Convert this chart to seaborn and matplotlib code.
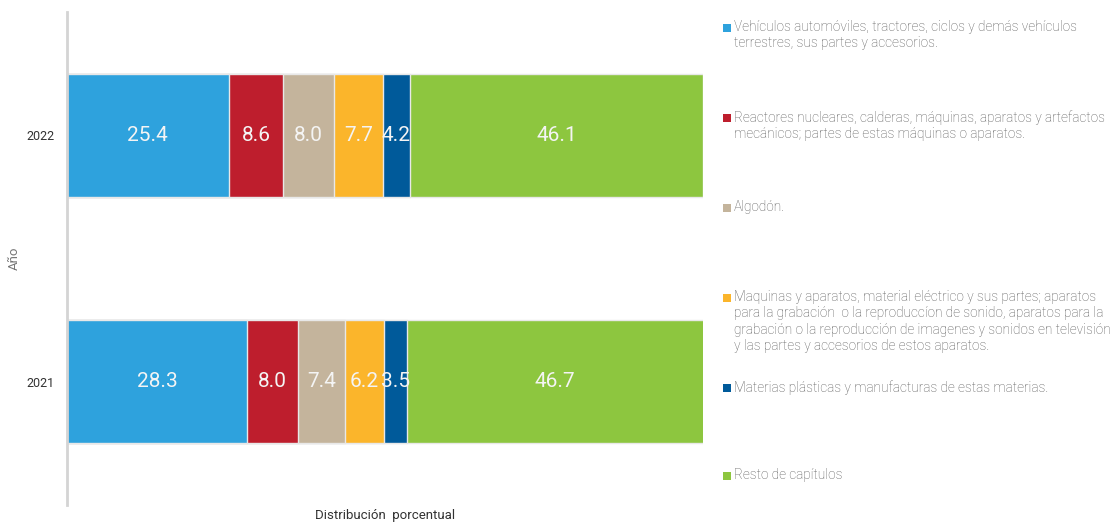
import matplotlib
matplotlib.use("Agg")
import matplotlib.pyplot as plt
import matplotlib.patches as mpatches
import numpy as np
import pandas as pd
import seaborn as sns

# Data
years = ["2022", "2021"]
categories = [
    "Vehículos automóviles, tractores, ciclos y demás vehículos\nterrestres, sus partes y accesorios.",
    "Reactores nucleares, calderas, máquinas, aparatos y artefactos\nmecánicos; partes de estas máquinas o aparatos.",
    "Algodón.",
    "Maquinas y aparatos, material eléctrico y sus partes; aparatos\npara la grabación  o la reproduccíon de sonido, aparatos para la\ngrabación o la reproducción de imagenes y sonidos en televisión\ny las partes y accesorios de estos aparatos.",
    "Materias plásticas y manufacturas de estas materias.",
    "Resto de capítulos",
]
values_2022 = [25.4, 8.6, 8.0, 7.7, 4.2, 46.1]
values_2021 = [28.3, 8.0, 7.4, 6.2, 3.5, 46.7]
colors = ["#2EA2DD", "#BE1E2D", "#C4B49C", "#FBB52B", "#005A9A", "#8DC63F"]

sns.set_theme(style="white")
fam = ["Roboto", "DejaVu Sans"]
plt.rcParams["font.family"] = fam

fig = plt.figure(figsize=(11.18, 5.23), dpi=100)
ax = fig.add_axes([67 / 1118, 1 - 505 / 523, (703 - 67) / 1118, (505 - 12) / 523])

vals = np.array([values_2022, values_2021])
cum = np.cumsum(vals, axis=1)

# Stacked bars: draw cumulative totals from the widest down so each segment shows
for i in reversed(range(len(categories))):
    df = pd.DataFrame({"Año": years, "valor": cum[:, i]})
    sns.barplot(data=df, x="valor", y="Año", orient="h", color=colors[i],
                saturation=1, width=0.5, edgecolor="#e8e8e8", linewidth=1,
                ax=ax, zorder=2 + (len(categories) - i) * 0.01)

# Segment value labels
for r in range(len(years)):
    left = 0.0
    for i, v in enumerate(vals[r]):
        ax.text(left + v / 2, r, f"{v:.1f}", ha="center", va="center",
                color="#f4f4f4", fontsize=15, zorder=10)
        left += v

ax.set_xlim(0, 100)
ax.set_ylim(1.5, -0.5)
ax.set_xticks([])
ax.tick_params(axis="y", length=0, labelsize=9, labelcolor="#333333", pad=9)
for s in ["top", "right", "bottom"]:
    ax.spines[s].set_visible(False)
ax.spines["left"].set_color("#d4d4d4")
ax.spines["left"].set_linewidth(2)
ax.set_ylabel("Año", fontsize=9.5, color="#777777")
ax.yaxis.set_label_coords(-0.072, 0.5)
ax.set_xlabel("Distribución  porcentual", fontsize=9.5, color="#333333", labelpad=3)

# Legend entries placed down the right side
legend_tops = [28, 118, 208, 298, 388, 476]
for lab, col, ytop in zip(categories, colors, legend_tops):
    fig.patches.append(mpatches.Rectangle(
        (723 / 1118, 1 - (ytop + 4) / 523), 8 / 1118, 8 / 523,
        transform=fig.transFigure, facecolor=col, edgecolor="none"))
    fig.text(734 / 1118, 1 - (ytop - 8) / 523, lab, ha="left", va="top",
             fontsize=9.8, color="#5a5a5a", linespacing=1.22,
             fontweight="light")

fig.savefig("out.png", dpi=100, facecolor="white")
